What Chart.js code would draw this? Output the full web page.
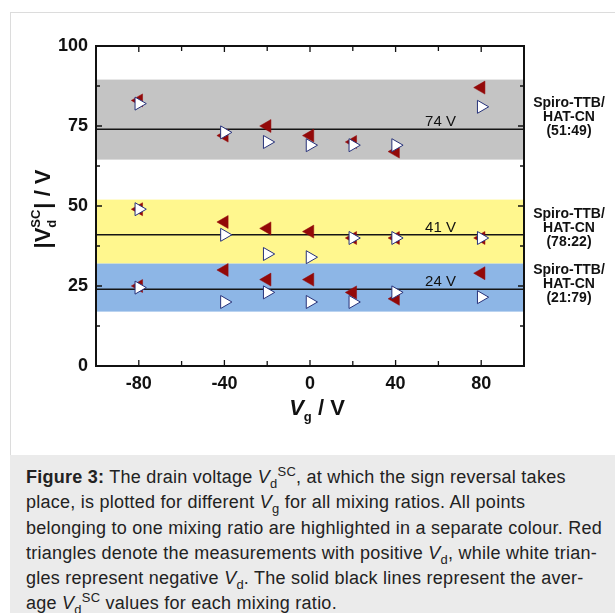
<!DOCTYPE html>
<html>
<head>
<meta charset="utf-8">
<script src="https://cdn.jsdelivr.net/npm/chart.js@4.4.0/dist/chart.umd.min.js"></script>
<style>
  body { margin: 0; background: #fff; width: 615px; height: 613px; overflow: hidden; position: relative;
         font-family: "Liberation Sans", Arial, sans-serif; }
  #frame { position: absolute; left: 10px; top: 12px; width: 605px; height: 443px;
           border-left: 1px solid #dcdcdc; border-top: 1px solid #dcdcdc; box-sizing: border-box; }
  #chartBox { position: absolute; left: 0; top: 0; width: 615px; height: 455px; }
  #caption { position: absolute; left: 10px; top: 455px; width: 605px; height: 158px; background: #ebebeb;
             box-sizing: border-box; padding: 10px 0 0 16px; font-size: 18px; letter-spacing: 0.25px;
             line-height: 25.3px; color: #222; white-space: nowrap; }
  #caption sub, #caption sup { font-size: 72%; line-height: 0; }
</style>
</head>
<body>
<div id="frame"></div>
<div id="chartBox"><canvas id="vdChart" width="615" height="455"></canvas></div>
<div id="caption">
<b>Figure 3:</b> The drain voltage <i>V</i><sub>d</sub><sup>SC</sup>, at which the sign reversal takes<br>
place, is plotted for different <i>V</i><sub>g</sub> for all mixing ratios. All points<br>
belonging to one mixing ratio are highlighted in a separate colour. Red<br>
triangles denote the measurements with positive <i>V</i><sub>d</sub>, while white trian-<br>
gles represent negative <i>V</i><sub>d</sub>. The solid black lines represent the aver-<br>
age <i>V</i><sub>d</sub><sup>SC</sup> values for each mixing ratio.
</div>
<script>
// gate voltages (x)
const vg = [-80, -40, -20, 0, 20, 40, 80];

// Spiro-TTB/HAT-CN (51:49)
const grayRed   = [83, 72, 75, 72, 70, 67, 87];
const grayWhite = [82, 73, 70, 69, 69, 69, 81];
// Spiro-TTB/HAT-CN (78:22)
const yellowRed   = [49, 45, 43, 42, 40, 40, 40];
const yellowWhite = [49, 41, 35, 34, 40, 40, 40];
// Spiro-TTB/HAT-CN (21:79)
const blueRed   = [25, 30, 27, 27, 23, 21, 29];
const blueWhite = [24.5, 20, 23, 20, 20, 23, 21.5];

// average Vd^SC per mixing ratio and the spread bands
const averages = [74, 41, 24];
const bandLow  = [64.5, 32, 17];
const bandHigh = [89.5, 52, 32];
const groupNames = ['(51:49)', '(78:22)', '(21:79)'];

const xTicks = [-80, -40, 0, 40, 80];
const xMinor = [-60, -20, 20, 60];
const yTicks = [0, 25, 50, 75, 100];
const yMinor = [12.5, 37.5, 62.5, 87.5];

const bandColors = ['#c4c4c4', '#fff78e', '#8db6e6'];
const FONT = '"Liberation Sans", Arial, sans-serif';

function toPoints(ys) {
  return vg.map((x, i) => ({ x: x, y: ys[i] }));
}

// bands, frame, inner ticks and the extra labels
const decorations = {
  id: 'decorations',
  beforeDatasetsDraw(chart) {
    const { ctx, chartArea: a, scales: { y } } = chart;
    ctx.save();
    bandLow.forEach((lo, i) => {
      const top = y.getPixelForValue(bandHigh[i]);
      const bot = y.getPixelForValue(lo);
      ctx.fillStyle = bandColors[i];
      ctx.fillRect(a.left, top, a.right - a.left, bot - top);
    });
    ctx.restore();
  },
  afterDatasetsDraw(chart) {
    const { ctx, chartArea: a, scales: { x, y } } = chart;
    ctx.save();
    ctx.strokeStyle = '#111';
    ctx.lineWidth = 1.3;
    ctx.beginPath();
    const xt = (v, len) => {
      const px = x.getPixelForValue(v);
      ctx.moveTo(px, a.bottom); ctx.lineTo(px, a.bottom - len);
      ctx.moveTo(px, a.top); ctx.lineTo(px, a.top + len);
    };
    const yt = (v, len) => {
      const py = y.getPixelForValue(v);
      ctx.moveTo(a.left, py); ctx.lineTo(a.left + len, py);
      ctx.moveTo(a.right, py); ctx.lineTo(a.right - len, py);
    };
    xTicks.forEach(v => xt(v, 6));
    xMinor.forEach(v => xt(v, 5));
    yTicks.forEach(v => yt(v, 6));
    yMinor.forEach(v => yt(v, 4));
    ctx.stroke();
    ctx.lineWidth = 2;
    ctx.strokeRect(a.left, a.top, a.right - a.left, a.bottom - a.top);
    ctx.restore();
  },
  afterDraw(chart) {
    const { ctx, chartArea: a, scales: { x, y } } = chart;
    ctx.save();
    ctx.fillStyle = '#111';

    // average labels
    ctx.font = '15px ' + FONT;
    ctx.textAlign = 'center';
    ctx.textBaseline = 'alphabetic';
    averages.forEach(v => {
      ctx.fillText(v + ' V', x.getPixelForValue(61), y.getPixelForValue(v) - 3);
    });

    // group names on the right
    ctx.font = 'bold 14px ' + FONT;
    ctx.textBaseline = 'middle';
    const labelCenters = [77.8, 43.1, 25.6];
    labelCenters.forEach((v, i) => {
      const cy = y.getPixelForValue(v);
      const cx = a.right + 45;
      ctx.fillText('Spiro-TTB/', cx, cy - 14);
      ctx.fillText('HAT-CN', cx, cy);
      ctx.fillText(groupNames[i], cx, cy + 14);
    });

    // x title: Vg / V
    ctx.textAlign = 'left';
    ctx.textBaseline = 'alphabetic';
    const big = 'bold 22px ' + FONT, small = 'bold 13px ' + FONT;
    ctx.font = 'italic ' + big;
    const wV = ctx.measureText('V').width;
    ctx.font = small;
    const wg = ctx.measureText('g').width;
    ctx.font = big;
    const wRest = ctx.measureText(' / V').width;
    let sx = 317 - (wV + wg + wRest) / 2;
    const by = 415;
    ctx.font = 'italic ' + big; ctx.fillText('V', sx, by); sx += wV;
    ctx.font = small; ctx.fillText('g', sx, by + 6); sx += wg;
    ctx.font = big; ctx.fillText(' / V', sx, by);

    // y title: |Vd^SC| / V (rotated)
    ctx.translate(50, (a.top + a.bottom) / 2 + 3);
    ctx.rotate(-Math.PI / 2);
    ctx.font = big;
    const w1 = ctx.measureText('|V').width;
    const w3 = ctx.measureText('| / V').width;
    ctx.font = small;
    const w2 = Math.max(ctx.measureText('d').width, ctx.measureText('SC').width) + 1;
    let tx = -(w1 + w2 + w3) / 2;
    ctx.font = big; ctx.fillText('|V', tx, 0); tx += w1;
    ctx.font = small;
    ctx.fillText('d', tx, 6);
    ctx.fillText('SC', tx, -10);
    tx += w2;
    ctx.font = big; ctx.fillText('| / V', tx, 0);
    ctx.restore();
  }
};

const ctx = document.getElementById('vdChart').getContext('2d');
const vdChart = new Chart(ctx, {
  type: 'scatter',
  data: {
    datasets: [
      {
        label: 'negative Vd',
        data: toPoints(grayWhite).concat(toPoints(yellowWhite), toPoints(blueWhite)),
        pointStyle: 'triangle',
        rotation: 90,
        pointRadius: 7.5,
        backgroundColor: '#ffffff',
        borderColor: '#27327a',
        borderWidth: 1,
        order: 1
      },
      {
        label: 'positive Vd',
        data: toPoints(grayRed).concat(toPoints(yellowRed), toPoints(blueRed)),
        pointStyle: 'triangle',
        rotation: -90,
        pointRadius: 7.5,
        backgroundColor: '#930909',
        borderColor: '#930909',
        borderWidth: 0.5,
        order: 2
      }
    ].concat(averages.map(v => ({
      type: 'line',
      label: 'average ' + v,
      data: [{ x: -100, y: v }, { x: 100, y: v }],
      borderColor: '#151515',
      borderWidth: 1.4,
      pointRadius: 0,
      order: 3
    })))
  },
  options: {
    responsive: false,
    animation: false,
    layout: { padding: { left: 0, top: 46, right: 91, bottom: 0 } },
    plugins: {
      legend: { display: false },
      tooltip: { enabled: false }
    },
    scales: {
      x: {
        type: 'linear',
        min: -100,
        max: 100,
        afterBuildTicks: s => { s.ticks = xTicks.map(v => ({ value: v })); },
        afterFit: s => { s.height = 89; },
        grid: { display: false, drawTicks: false },
        border: { display: false },
        ticks: { autoSkip: false, maxRotation: 0, padding: 7, color: '#111',
                 font: { family: FONT, size: 18, weight: 'bold' } }
      },
      y: {
        min: 0,
        max: 100,
        afterBuildTicks: s => { s.ticks = yTicks.map(v => ({ value: v })); },
        afterFit: s => { s.width = 96; },
        grid: { display: false, drawTicks: false },
        border: { display: false },
        ticks: { padding: 8, color: '#111',
                 font: { family: FONT, size: 18, weight: 'bold' } }
      }
    }
  },
  plugins: [decorations]
});
</script>
</body>
</html>
